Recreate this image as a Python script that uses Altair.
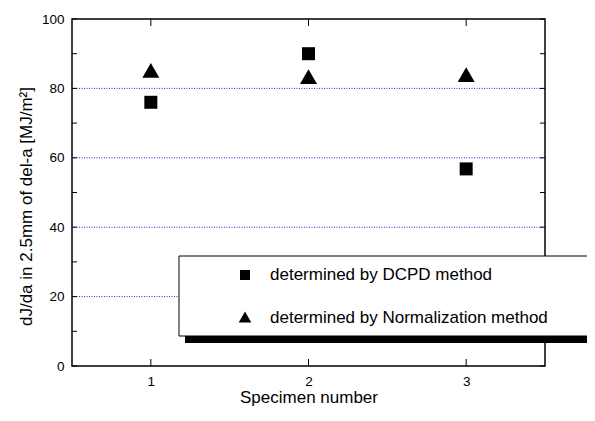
import altair as alt
import pandas as pd

# ---- data ----
specimens = [1, 2, 3]
dcpd_values = [76.0, 90.0, 56.8]
norm_values = [85.2, 83.4, 84.0]
series_names = ["determined by DCPD method", "determined by Normalization method"]
y_tick_labels = [0, 20, 40, 60, 80, 100]
y_minor_ticks = [0, 10, 20, 30, 40, 50, 60, 70, 80, 90, 100]
grid_values = [20, 40, 60, 80]

W, H = 473, 347
FONT = "Liberation Sans"

dcpd_df = pd.DataFrame({"x": specimens, "y": dcpd_values})
norm_df = pd.DataFrame({"x": specimens, "y": norm_values})
grid_df = pd.DataFrame({"y": grid_values})
yt_df = pd.DataFrame({"y": y_minor_ticks})
xt_df = pd.DataFrame({"x": specimens})

xs = alt.Scale(domain=[0.5, 3.5], nice=False, zero=False)
ys = alt.Scale(domain=[0, 100], nice=False, zero=False)

x_axis = alt.Axis(values=specimens, format="d", title="Specimen number",
                  ticks=False, domain=False, grid=False, labelPadding=8,
                  labelFontSize=13.5, titleFontSize=17, titleFontWeight="normal",
                  titleY=31, titleBaseline="middle", labelColor="black",
                  titleColor="black", labelFont=FONT, titleFont=FONT)
y_axis = alt.Axis(values=y_tick_labels, title="dJ/da in 2.5mm of del-a [MJ/m²]",
                  ticks=False, domain=False, grid=False, labelPadding=8,
                  labelFontSize=13.5, titleFontSize=17, titleFontWeight="normal",
                  titleX=-46, titleY=187, titleAngle=-90, titleBaseline="middle",
                  titleAlign="center", labelColor="black", titleColor="black",
                  labelFont=FONT, titleFont=FONT)

X = alt.X("x:Q", scale=xs, axis=x_axis)
Y = alt.Y("y:Q", scale=ys, axis=y_axis)

grid = alt.Chart(grid_df).mark_rule(color="#2020ff", strokeDash=[1, 1.5], strokeWidth=1).encode(y=Y)

left_ticks = alt.Chart(yt_df).mark_rule(color="black").encode(
    y=Y, x=alt.value(0), x2=alt.value(5))
right_ticks = alt.Chart(yt_df).mark_rule(color="black").encode(
    y=Y, x=alt.value(W - 5), x2=alt.value(W))
bottom_ticks = alt.Chart(xt_df).mark_rule(color="black").encode(
    x=X, y=alt.value(H - 7), y2=alt.value(H))
top_ticks = alt.Chart(xt_df).mark_rule(color="black").encode(
    x=X, y=alt.value(0), y2=alt.value(7))

dcpd = alt.Chart(dcpd_df).mark_point(filled=True, opacity=1, color="black", shape="square", size=169).encode(
    x=X, y=Y)
norm = alt.Chart(norm_df).mark_point(filled=True, opacity=1, color="black", shape="triangle-up", size=289).encode(
    x=X, y=Y)

one = pd.DataFrame({"k": [0]})
shadow = alt.Chart(one).mark_rect(color="black").encode(
    x=alt.value(113), x2=alt.value(530), y=alt.value(310), y2=alt.value(324))
box = alt.Chart(one).mark_rect(fill="white", stroke="black", strokeWidth=1).encode(
    x=alt.value(107), x2=alt.value(530), y=alt.value(237), y2=alt.value(317))

leg_sq = alt.Chart(one).mark_point(filled=True, opacity=1, color="black", shape="square", size=100).encode(
    x=alt.value(173), y=alt.value(256))
leg_tri = alt.Chart(one).mark_point(filled=True, opacity=1, color="black", shape="triangle-up", size=160).encode(
    x=alt.value(173), y=alt.value(298))
leg_t1 = alt.Chart(pd.DataFrame({"t": [series_names[0]]})).mark_text(
    align="left", baseline="middle", font=FONT, fontSize=17, color="black").encode(
    x=alt.value(198), y=alt.value(256), text="t:N")
leg_t2 = alt.Chart(pd.DataFrame({"t": [series_names[1]]})).mark_text(
    align="left", baseline="middle", font=FONT, fontSize=17, color="black").encode(
    x=alt.value(198), y=alt.value(299), text="t:N")

chart = alt.layer(grid, left_ticks, right_ticks, bottom_ticks, top_ticks, dcpd, norm,
                  shadow, box, leg_sq, leg_tri, leg_t1, leg_t2).properties(
    width=W, height=H,
    autosize=alt.AutoSizeParams(type="none"),
    padding={"left": 64, "top": 11, "right": 42, "bottom": 42},
).configure_view(stroke="black", strokeWidth=1.5)

chart.save("out.html", embed_options={"renderer": "svg", "actions": False})
